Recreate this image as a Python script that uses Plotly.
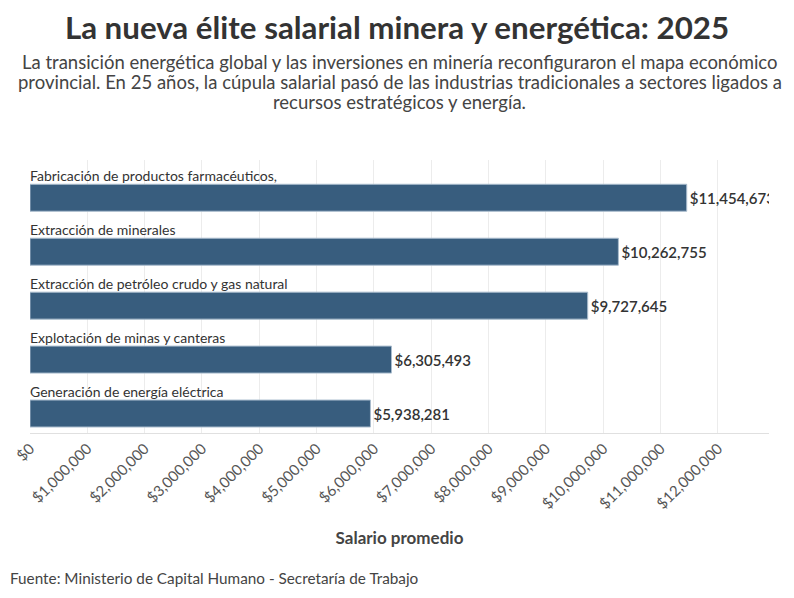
import plotly.graph_objects as go

categorias = [
    "Fabricación de productos farmacéuticos,",
    "Extracción de minerales",
    "Extracción de petróleo crudo y gas natural",
    "Explotación de minas y canteras",
    "Generación de energía eléctrica",
]
salarios = [11454673, 10262755, 9727645, 6305493, 5938281]

titulo = "La nueva élite salarial minera y energética: 2025"
subtitulo = [
    "La transición energética global y las inversiones en minería reconfiguraron el mapa económico",
    "provincial. En 25 años, la cúpula salarial pasó de las industrias tradicionales a sectores ligados a",
    "recursos estratégicos y energía.",
]
fuente = "Fuente: Ministerio de Capital Humano - Secretaría de Trabajo"
eje_x = "Salario promedio"

FONT = "Lato"
BAR = "#385d7e"
H = 598
T = 160
PH = 598 - 160 - 165

fig = go.Figure()
fig.add_trace(go.Bar(
    x=salarios,
    y=list(range(len(categorias))),
    orientation="h",
    width=0.5,
    marker=dict(color=BAR, line=dict(color="#a9bccd", width=1)),
    texttemplate="%{x:$,.0f}",
    textposition="outside",
    textfont=dict(family=FONT, size=15, color="#333333", weight=600),
    cliponaxis=True,
    hoverinfo="skip",
))

for i, c in enumerate(categorias):
    fig.add_annotation(
        x=0, y=i, xref="x", yref="y", text=c, showarrow=False,
        xanchor="left", yanchor="middle", yshift=22, xshift=-2,
        font=dict(family=FONT, size=14, color="#333333"),
    )

# subtitle lines, centres at 62, 82, 102 px from top
for k, line in enumerate(subtitulo):
    ypix = 62 + 20 * k
    fig.add_annotation(
        x=0.5, y=1.0, xref="paper", yref="paper", yshift=T - ypix, yanchor="middle", xanchor="center",
        text=line, showarrow=False,
        font=dict(family=FONT, size=18.5, color="#444444"),
    )

fig.add_annotation(
    x=-22 / 739, y=0, xref="paper", yref="paper", yshift=-145, xanchor="left", yanchor="middle",
    text=fuente, showarrow=False,
    font=dict(family=FONT, size=15.3, color="#444444"),
)

fig.update_layout(
    width=794, height=H,
    margin=dict(l=30, r=25, t=T, b=165),
    paper_bgcolor="white", plot_bgcolor="white",
    showlegend=False,
    title=dict(text="<b>" + titulo + "</b>", x=0.5, xanchor="center", y=0.972, yanchor="top",
               font=dict(family=FONT, size=31.3, color="#333333")),
    xaxis=dict(
        range=[0, 12.89e6], dtick=1e6, tick0=0, tickformat="$,.0f", tickangle=-45,
        showgrid=True, gridcolor="#ececec", gridwidth=1,
        zeroline=False, showline=True, linecolor="#e0e0e0",
        tickfont=dict(family=FONT, size=15, color="#555555"),
        title=dict(text="<b>" + eje_x + "</b>", font=dict(family=FONT, size=17, color="#444444"), standoff=20),
    ),
    yaxis=dict(range=[4.361, -0.7], showticklabels=False, showgrid=False, zeroline=False),
)
fig.write_html("out.html")
